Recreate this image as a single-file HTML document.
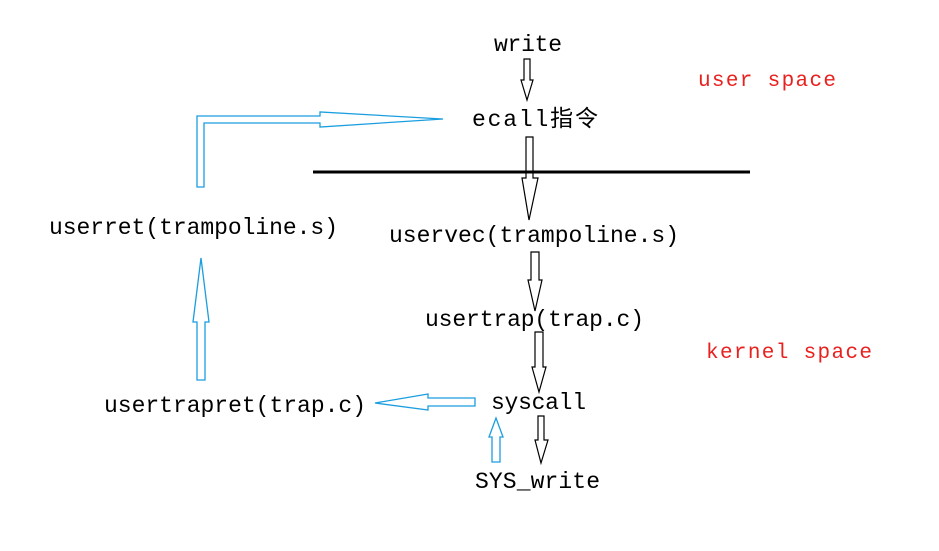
<!DOCTYPE html>
<html><head><meta charset="utf-8"><style>
html,body{margin:0;padding:0;background:#fff;}
svg{display:block}
text{font-family:"Liberation Mono","Noto Sans CJK SC",monospace;font-size:23px;fill:#000}
.r{fill:#e8211f;font-size:21px}
</style></head><body>
<svg width="939" height="551" viewBox="0 0 939 551" xmlns="http://www.w3.org/2000/svg">
<text x="494" y="51" textLength="68">write</text>
<text x="472" y="126" textLength="126">ecall指令</text>
<text x="49" y="234" textLength="289">userret(trampoline.s)</text>
<text x="389" y="242" textLength="290">uservec(trampoline.s)</text>
<text x="425" y="326" textLength="219">usertrap(trap.c)</text>
<text x="104" y="412" textLength="262">usertrapret(trap.c)</text>
<text x="491" y="409" textLength="95">syscall</text>
<text x="475" y="488" textLength="125">SYS_write</text>
<text class="r" x="698" y="86" textLength="138">user space</text>
<text class="r" x="706" y="358" textLength="166">kernel space</text>
<line x1="313" y1="172" x2="750" y2="172" stroke="#000" stroke-width="3"/>
<g fill="none" stroke="#000" stroke-width="1.2">
<polygon points="524,59 530,59 530,80 533,80 527,100 521,80 524,80"/>
<polygon points="526,137 533,137 533,178 538,178 529,220 522,178 526,178"/>
<polygon points="531,252 539,252 539,280 542,280 535,311 528,280 531,280"/>
<polygon points="535,332 543,332 543,367 546,367 539,392 532,367 535,367"/>
<polygon points="538,416 544,416 544,440 548,440 541,463 535,440 538,440"/>
</g>
<g fill="none" stroke="#1b9ee0" stroke-width="1.3">
<polygon points="197,187 204,187 204,123 320,123 320,127 443,119 320,112 320,116 197,116"/>
<polygon points="428,398 475,398 475,406 428,406 428,410 375,403 428,394"/>
<polygon points="197,380 205,380 205,322 209,322 201,258 193,322 197,322"/>
<polygon points="492,462 500,462 500,437 503,437 496,418 489,437 492,437"/>
</g>
</svg>
</body></html>
